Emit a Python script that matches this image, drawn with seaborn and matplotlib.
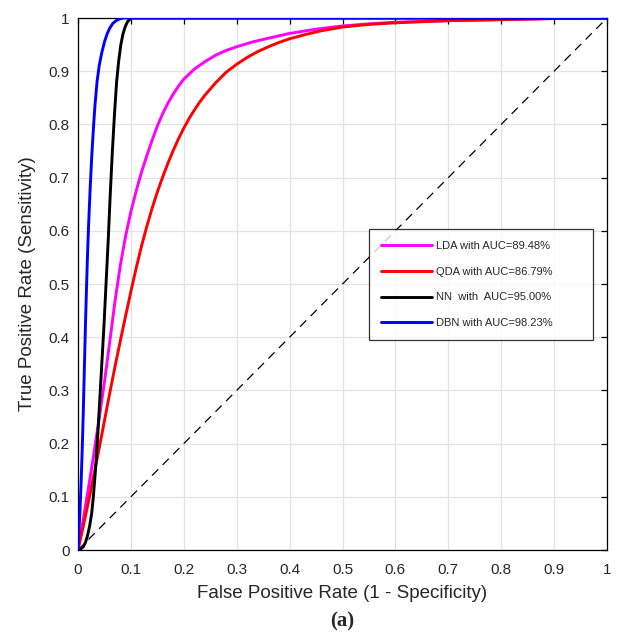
import numpy as np
import pandas as pd
import matplotlib
matplotlib.use("Agg")
import matplotlib.pyplot as plt
import seaborn as sns

# ---- data ----
lda_fpr = [0, 0.01, 0.02, 0.03, 0.04, 0.05, 0.06, 0.07, 0.08, 0.09, 0.1, 0.11, 0.12, 0.13,
           0.14, 0.15, 0.16, 0.17, 0.18, 0.19, 0.2, 0.22, 0.24, 0.26, 0.28, 0.3, 0.33, 0.36,
           0.4, 0.45, 0.5, 0.55, 0.6, 0.7, 0.8, 0.9, 1.0]
lda_tpr = [0, 0.058, 0.118, 0.181, 0.247, 0.316, 0.391, 0.468, 0.535, 0.59, 0.636, 0.675,
           0.71, 0.741, 0.77, 0.797, 0.82, 0.84, 0.857, 0.872, 0.885, 0.904, 0.918, 0.93,
           0.939, 0.946, 0.955, 0.962, 0.971, 0.979, 0.985, 0.989, 0.992, 0.995, 0.997,
           0.999, 1.0]

qda_fpr = [0, 0.01, 0.02, 0.03, 0.04, 0.05, 0.06, 0.07, 0.08, 0.09, 0.1, 0.11, 0.12, 0.13,
           0.14, 0.15, 0.16, 0.17, 0.18, 0.19, 0.2, 0.21, 0.22, 0.23, 0.24, 0.26, 0.28, 0.3,
           0.32, 0.34, 0.36, 0.38, 0.4, 0.43, 0.46, 0.5, 0.55, 0.6, 0.7, 0.8, 0.9, 1.0]
qda_tpr = [0, 0.045, 0.092, 0.141, 0.191, 0.243, 0.295, 0.345, 0.393, 0.44, 0.486, 0.53,
           0.571, 0.608, 0.642, 0.673, 0.701, 0.727, 0.751, 0.773, 0.793, 0.811, 0.827,
           0.842, 0.855, 0.878, 0.898, 0.913, 0.926, 0.937, 0.946, 0.954, 0.961, 0.969,
           0.976, 0.983, 0.988, 0.991, 0.995, 0.997, 0.999, 1.0]

nn_fpr = [0, 0.005, 0.01, 0.014, 0.018, 0.022, 0.026, 0.029, 0.033, 0.037, 0.041, 0.045,
          0.049, 0.053, 0.057, 0.061, 0.065, 0.069, 0.073, 0.077, 0.081, 0.085, 0.089,
          0.093, 0.097, 0.102, 1.0]
nn_tpr = [0, 0.002, 0.006, 0.014, 0.027, 0.045, 0.07, 0.1, 0.15, 0.21, 0.28, 0.35,
          0.42, 0.5, 0.58, 0.67, 0.75, 0.82, 0.88, 0.92, 0.95, 0.97, 0.983,
          0.992, 0.997, 1.0, 1.0]

dbn_fpr = [0, 0.002, 0.004, 0.006, 0.008, 0.01, 0.012, 0.014, 0.016, 0.018, 0.02, 0.023,
           0.026, 0.029, 0.032, 0.036, 0.04, 0.045, 0.05, 0.055, 0.06, 0.066, 0.072,
           0.078, 0.085, 1.0]
dbn_tpr = [0, 0.04, 0.08, 0.13, 0.19, 0.26, 0.34, 0.42, 0.49, 0.555, 0.61, 0.68,
           0.74, 0.79, 0.835, 0.88, 0.91, 0.935, 0.955, 0.97, 0.981, 0.99, 0.995,
           0.998, 1.0, 1.0]

labels = ["LDA with AUC=89.48%", "QDA with AUC=86.79%",
          "NN  with  AUC=95.00%", "DBN with AUC=98.23%"]
colors = ["#ff00ff", "#ff0000", "#000000", "#0000ff"]

x_ticks = [0, 0.1, 0.2, 0.3, 0.4, 0.5, 0.6, 0.7, 0.8, 0.9, 1]
y_ticks = [0, 0.1, 0.2, 0.3, 0.4, 0.5, 0.6, 0.7, 0.8, 0.9, 1]
tick_labels = ["0", "0.1", "0.2", "0.3", "0.4", "0.5", "0.6", "0.7", "0.8", "0.9", "1"]

frames = []
for lab, xs, ys in zip(labels, [lda_fpr, qda_fpr, nn_fpr, dbn_fpr],
                       [lda_tpr, qda_tpr, nn_tpr, dbn_tpr]):
    frames.append(pd.DataFrame({"fpr": xs, "tpr": ys, "model": lab}))
df = pd.concat(frames, ignore_index=True)

sns.set_style("white")
plt.rcParams["font.family"] = ["Liberation Sans", "DejaVu Sans"]

fig = plt.figure(figsize=(6.25, 6.36), dpi=100)
ax = fig.add_axes([78 / 625, 1 - 550 / 636, (607 - 78) / 625, (550 - 18) / 636])

# diagonal chance line
ax.plot([0, 1], [0, 1], color="black", lw=0.9, ls=(0, (7, 5)), zorder=2)

sns.lineplot(data=df, x="fpr", y="tpr", hue="model", hue_order=labels,
             palette=colors, sort=False, estimator=None, units="model",
             linewidth=2.1, ax=ax, zorder=3)
for ln in ax.get_lines():
    ln.set_solid_joinstyle("round")

ax.set_xlim(0, 1)
ax.set_ylim(0, 1)
ax.set_xticks(x_ticks)
ax.set_xticklabels(tick_labels)
ax.set_yticks(y_ticks)
ax.set_yticklabels(tick_labels)
ax.grid(True, color="#e3e3e3", lw=0.9)
ax.set_axisbelow(True)
for s in ax.spines.values():
    s.set_visible(True)
    s.set_color("black")
    s.set_linewidth(0.9)
ax.tick_params(direction="in", length=4.5, width=0.9, top=True, right=True,
               labelsize=11, colors="black")
ax.tick_params(axis="x", pad=9)
ax.tick_params(axis="y", pad=6)
ax.tick_params(labelcolor="#262626")

ax.set_xlabel("False Positive Rate (1 - Specificity)", fontsize=13.5, labelpad=6, color="#262626")
ax.set_ylabel("True Positive Rate (Sensitivity)", fontsize=13.5, labelpad=9, color="#262626")

leg = ax.legend(loc="upper left", bbox_to_anchor=(0.55, 0.604, 0.424, 0.0), mode="expand",
                fontsize=8, frameon=True, fancybox=False, edgecolor="black",
                handlelength=4.6, handletextpad=0.3, labelspacing=1.42,
                borderpad=1.1, borderaxespad=0.0, title=None)
leg.get_frame().set_linewidth(0.9)
for line in leg.get_lines():
    line.set_linewidth(2.1)

fig.text((78 + 607) / 2 / 625, 1 - 621 / 636, "(a)", ha="center", va="center",
         fontsize=15, fontweight="bold", family=["Liberation Serif", "DejaVu Serif"])

fig.savefig("out.png", dpi=100)
